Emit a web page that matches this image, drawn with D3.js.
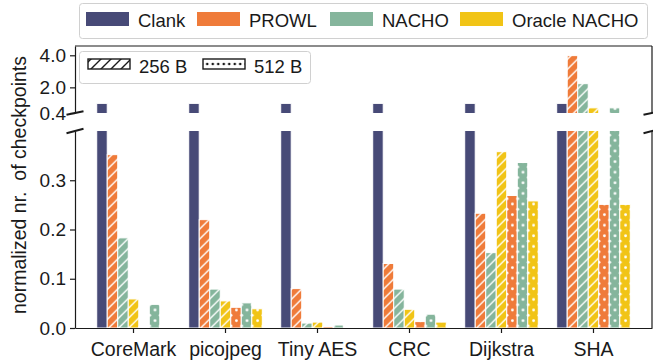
<!DOCTYPE html>
<html>
<head>
<meta charset="utf-8">
<script src="https://cdn.jsdelivr.net/npm/d3@7"></script>
<style>
  body { margin: 0; background: #fff; }
  text { font-family: "Liberation Sans", Arial, sans-serif; fill: #1a1a1a; }
</style>
</head>
<body>
<svg id="chart" width="653" height="364"></svg>
<script>
// ---- data -------------------------------------------------------------
const categories = ["CoreMark", "picojpeg", "Tiny AES", "CRC", "Dijkstra", "SHA"];
const clank     = [1, 1, 1, 1, 1, 1];
const prowl256  = [0.352, 0.220, 0.080, 0.131, 0.233, 3.98];
const nacho256  = [0.183, 0.079, 0.010, 0.079, 0.153, 2.23];
const oracle256 = [0.059, 0.055, 0.012, 0.038, 0.358, 0.72];
const prowl512  = [0.002, 0.042, 0.003, 0.013, 0.269, 0.251];
const nacho512  = [0.048, 0.051, 0.006, 0.028, 0.336, 0.72];
const oracle512 = [0.001, 0.039, 0.001, 0.012, 0.258, 0.251];

const methods = ["Clank", "PROWL", "NACHO", "Oracle NACHO"];
const sizes = ["256 B", "512 B"];
const lowerTicks = [0, 0.1, 0.2, 0.3];
const upperTicks = [0.4, 2.0, 4.0];

// ---- styling ----------------------------------------------------------
const methodColors = ["#474a77", "#ef7b3a", "#85b59c", "#f1c416"];
const ink = "#1a1a1a";

// bar order within a group: method index + buffer size (null = no hatch)
const series = [
  { method: 0, size: null, values: clank },
  { method: 1, size: 0, values: prowl256 },
  { method: 2, size: 0, values: nacho256 },
  { method: 3, size: 0, values: oracle256 },
  { method: 1, size: 1, values: prowl512 },
  { method: 2, size: 1, values: nacho512 },
  { method: 3, size: 1, values: oracle512 }
];

// ---- layout -----------------------------------------------------------
const left = 75, right = 652;
const upper = { top: 46, bottom: 113 };
const lower = { top: 131, bottom: 328 };

const svg = d3.select("#chart");
svg.append("rect").attr("width", 653).attr("height", 364).attr("fill", "#fff");
const defs = svg.append("defs");

// hatch patterns: "//" stripes for 256 B, staggered dots for 512 B
methodColors.forEach((c, i) => {
  const s = defs.append("pattern").attr("id", "stripe" + i)
    .attr("patternUnits", "userSpaceOnUse").attr("width", 10).attr("height", 10);
  s.append("rect").attr("width", 10).attr("height", 10).attr("fill", c);
  s.append("path").attr("d", "M-2,2 L2,-2 M0,10 L10,0 M8,12 L12,8")
    .attr("stroke", "#fff").attr("stroke-width", 1.4);

  const d = defs.append("pattern").attr("id", "dots" + i)
    .attr("patternUnits", "userSpaceOnUse").attr("width", 10.6).attr("height", 10.6);
  d.append("rect").attr("width", 10.6).attr("height", 10.6).attr("fill", c);
  [[5.3, 2.65], [0, 7.95], [10.6, 7.95]].forEach(([cx, cy]) =>
    d.append("circle").attr("cx", cx).attr("cy", cy).attr("r", 1.4).attr("fill", "#fff"));
});
// legend swatches (black on white)
{
  const s = defs.append("pattern").attr("id", "stripeKey")
    .attr("patternUnits", "userSpaceOnUse").attr("width", 10).attr("height", 10);
  s.append("rect").attr("width", 10).attr("height", 10).attr("fill", "#fff");
  s.append("path").attr("d", "M-2,2 L2,-2 M0,10 L10,0 M8,12 L12,8")
    .attr("stroke", ink).attr("stroke-width", 1.4);
  const d = defs.append("pattern").attr("id", "dotsKey")
    .attr("patternUnits", "userSpaceOnUse").attr("width", 5.5).attr("height", 20)
    .attr("x", 1).attr("y", 54);
  d.append("rect").attr("width", 5.5).attr("height", 20).attr("fill", "#fff");
  d.append("circle").attr("cx", 2.75).attr("cy", 10).attr("r", 1.3).attr("fill", ink);
}

const fillFor = s => s.size === null ? methodColors[s.method]
  : `url(#${s.size === 0 ? "stripe" : "dots"}${s.method})`;

// ---- scales -----------------------------------------------------------
const x0 = d3.scaleBand().domain(categories).range([left, right])
  .paddingInner(0.2).paddingOuter(0.236);
const x1 = d3.scaleBand().domain(d3.range(series.length)).range([0, x0.bandwidth()]);
const yLow = d3.scaleLinear().domain([0, 0.4]).range([lower.bottom, lower.top]);
const yUp = d3.scaleLinear().domain([0.4, 4.58]).range([upper.bottom, upper.top]);

// ---- panels -----------------------------------------------------------
function panel(id, y, box) {
  defs.append("clipPath").attr("id", id)
    .append("rect").attr("x", left).attr("y", box.top)
    .attr("width", right - left).attr("height", box.bottom - box.top);
  const g = svg.append("g").attr("clip-path", `url(#${id})`);
  const groups = g.selectAll("g").data(categories).join("g")
    .attr("transform", c => `translate(${x0(c)},0)`);
  groups.selectAll("rect")
    .data((c, ci) => series.map((s, si) => ({ s, si, v: s.values[ci] })))
    .join("rect")
    .attr("x", d => x1(d.si))
    .attr("width", x1.bandwidth())
    .attr("y", d => y(d.v))
    .attr("height", d => Math.max(0, y(0) - y(d.v)))
    .attr("fill", d => fillFor(d.s))
    .attr("stroke", "#fff")
    .attr("stroke-width", 1);
}
panel("clipUp", yUp, upper);
panel("clipLow", yLow, lower);

// ---- axes -------------------------------------------------------------
function styleAxis(g, size) {
  g.selectAll(".domain").attr("stroke", ink).attr("stroke-width", 1.2);
  g.selectAll(".tick line").attr("stroke", ink).attr("stroke-width", 1.2);
  g.selectAll(".tick text").style("font-size", size + "px").attr("fill", ink);
}
svg.append("g").attr("transform", `translate(${left},0)`)
  .call(d3.axisLeft(yLow).tickValues(lowerTicks).tickFormat(d3.format(".1f"))
    .tickSize(5).tickPadding(4).tickSizeOuter(0))
  .call(g => styleAxis(g, 19));
svg.append("g").attr("transform", `translate(${left},0)`)
  .call(d3.axisLeft(yUp).tickValues(upperTicks).tickFormat(d3.format(".1f"))
    .tickSize(5).tickPadding(4).tickSizeOuter(0))
  .call(g => styleAxis(g, 19));
svg.append("g").attr("transform", `translate(0,${lower.bottom})`)
  .call(d3.axisBottom(x0).tickSize(5).tickPadding(9).tickSizeOuter(0))
  .call(g => styleAxis(g, 19.5));

// remaining spines
const spine = (x1_, y1_, x2_, y2_) => svg.append("line")
  .attr("x1", x1_).attr("y1", y1_).attr("x2", x2_).attr("y2", y2_)
  .attr("stroke", ink).attr("stroke-width", 1.2);
spine(left, upper.top, right, upper.top);
spine(right, upper.top, right, upper.bottom);
spine(right, lower.top, right, lower.bottom);

// axis-break marks
[[upper.bottom, 1.8], [lower.top, 2.3]].forEach(([yy, dy]) => {
  [left, right].forEach(xx => {
    svg.append("line")
      .attr("x1", xx - 8.5).attr("y1", yy + dy)
      .attr("x2", xx + 8.5).attr("y2", yy - dy)
      .attr("stroke", ink).attr("stroke-width", 2);
  });
});

// y label
svg.append("text")
  .attr("transform", `translate(25.5,${(upper.top + lower.bottom) / 2 - 2}) rotate(-90)`)
  .attr("text-anchor", "middle")
  .style("font-size", "19.5px")
  .style("white-space", "pre")
  .text("normalized nr.  of checkpoints");

// ---- method legend ----------------------------------------------------
const topLegend = svg.append("g");
topLegend.append("rect").attr("x", 79.5).attr("y", 3.5).attr("width", 568).attr("height", 35)
  .attr("rx", 3).attr("fill", "#fff").attr("stroke", "#d0d0d0");
const keyX = [86, 197, 330, 460];
methods.forEach((m, i) => {
  topLegend.append("rect").attr("x", keyX[i]).attr("y", 12).attr("width", 43).attr("height", 14)
    .attr("fill", methodColors[i]);
  topLegend.append("text").attr("x", keyX[i] + 52).attr("y", 26.5)
    .style("font-size", "18.5px").text(m);
});

// ---- buffer-size legend ------------------------------------------------
const sizeLegend = svg.append("g");
sizeLegend.append("rect").attr("x", 79.5).attr("y", 51.5).attr("width", 231).attr("height", 32)
  .attr("rx", 3).attr("fill", "#fff").attr("stroke", "#d0d0d0");
const sizeX = [88, 203];
sizes.forEach((s, i) => {
  sizeLegend.append("rect").attr("x", sizeX[i]).attr("y", 59).attr("width", 42).attr("height", 10)
    .attr("fill", i === 0 ? "url(#stripeKey)" : "url(#dotsKey)")
    .attr("stroke", ink).attr("stroke-width", 1.4);
  sizeLegend.append("text").attr("x", sizeX[i] + 51).attr("y", 73)
    .style("font-size", "18.5px").text(s);
});
</script>
</body>
</html>
